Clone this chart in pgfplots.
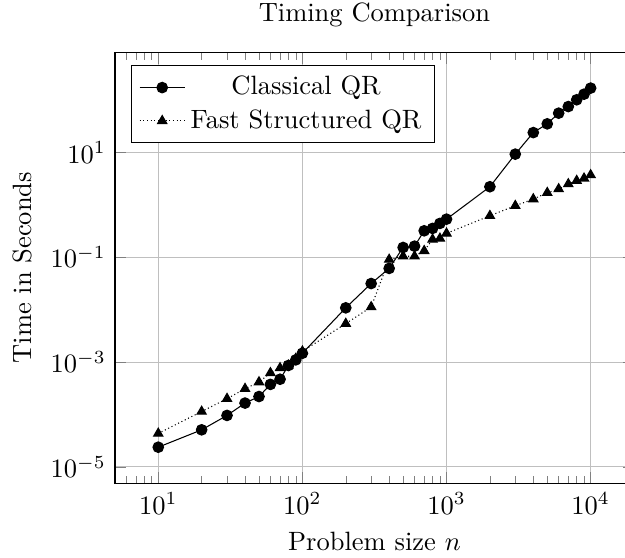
\documentclass[border=0pt]{standalone}
\usepackage{pgfplots}
\pgfplotsset{compat=1.18}
\begin{document}
\begin{tikzpicture}
\begin{loglogaxis}[
  scale only axis,
  at={(0pt,0pt)}, anchor=south west,
  width=195.8pt, height=162.6pt,
  title={Timing Comparison},
  xlabel={Problem size $n$},
  ylabel={Time in Seconds},
  grid=major,
  ytick={1e-5,1e-3,1e-1,1e1},
  yminorticks=false,
  legend pos=north west,
  legend cell align=center,
]
\addplot[black, solid, mark=*] coordinates {
(10,2.38e-5) (20,5.1e-5) (30,9.6e-5) (40,1.65e-4) (50,2.2e-4) (60,3.75e-4)
(70,4.7e-4) (80,8.6e-4) (90,1.1e-3) (100,1.47e-3) (200,1.08e-2) (300,3.14e-2)
(400,6.1e-2) (500,0.153) (600,0.162) (700,0.318) (800,0.353) (900,0.44)
(1000,0.53) (2000,2.2) (3000,9.2) (4000,23.7) (5000,34.8) (6000,55.6)
(7000,74.3) (8000,100) (9000,128) (10000,167)
};
\addlegendentry{Classical QR}
\addplot[black, densely dotted, mark=triangle*, mark options={solid}] coordinates {
(10,4.35e-5) (20,1.14e-4) (30,2.0e-4) (40,3.1e-4) (50,4.15e-4) (60,6.2e-4)
(70,7.7e-4) (80,8.6e-4) (90,1.16e-3) (100,1.6e-3) (200,5.4e-3) (300,1.12e-2)
(400,0.090) (500,0.104) (600,0.104) (700,0.132) (800,0.218) (900,0.227)
(1000,0.284) (2000,0.615) (3000,0.955) (4000,1.28) (5000,1.69) (6000,1.99)
(7000,2.48) (8000,2.87) (9000,3.18) (10000,3.68)
};
\addlegendentry{Fast Structured QR}
\end{loglogaxis}
\pgfresetboundingbox
\path (-43.4pt,-28.2pt) rectangle (192.44pt,182.3pt);
\end{tikzpicture}
\end{document}
